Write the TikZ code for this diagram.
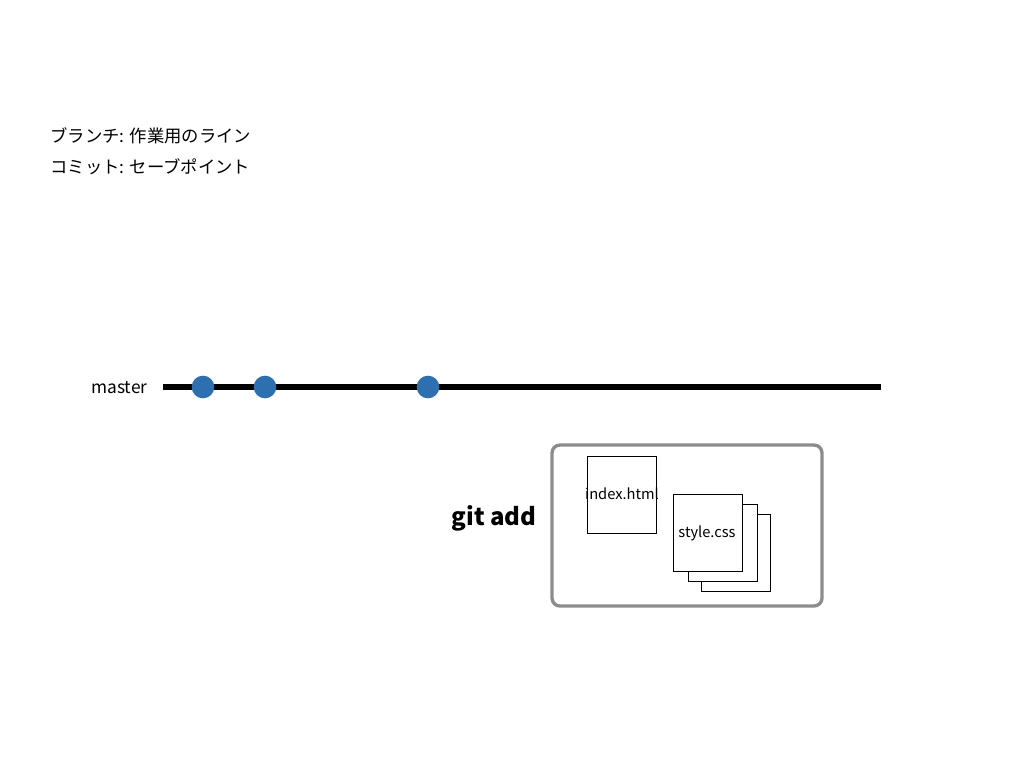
\documentclass[tikz,border=0pt]{standalone}
\usepackage{fontspec}
\setmainfont{Noto Sans CJK JP}
\definecolor{commitblue}{HTML}{2E6FB0}
\definecolor{boxgray}{HTML}{8C8C8C}
\tikzset{every picture/.style={line width=0.75pt}}
\tikzset{
  commit/.style={circle,fill=commitblue,draw=none,minimum size=17pt,inner sep=0pt},
  filebox/.style={draw=black,fill=white,line width=0.75pt,minimum width=51.75pt,minimum height=57.75pt,inner sep=0pt},
  txt/.style={inner sep=0.75pt,font=\fontsize{13}{15}\selectfont}
}
\begin{document}
\begin{tikzpicture}[x=0.75pt,y=0.75pt,yscale=-1,xscale=1]
		\useasboundingbox (0,0) rectangle (1024,769);
		
		% Text Node
		\node (branch) [txt,anchor=west] at (49,136) {ブランチ: 作業用のライン};
		% Text Node
		\node (commitnote) [txt,anchor=west] at (49,167) {コミット: セーブポイント};
		
		% master line
		\coordinate (mstart) at (163,387);
		\coordinate (mend) at (881,387);
		\node (master) [txt,anchor=east] at (149,388) {master};
		\draw [line width=4.5pt] (mstart) -- (mend);
		\node (c1) [commit] at (203,387) {};
		\node (c2) [commit] at (265,387) {};
		\node (c3) [commit] at (428,387) {};
		
		% staging area
		\draw [draw=boxgray,line width=2.5pt,rounded corners=6pt] (552,445) rectangle (822,606);
		\node (gitadd) [inner sep=0.75pt,font=\fontsize{18}{20}\selectfont\bfseries] at (494,518) {git add};
		
		% files
		\node (index) [filebox,anchor=north west] at (587,456) {};
		\node (style3) [filebox,anchor=north west] at (701,514) {};
		\node (style2) [filebox,anchor=north west] at (688,504) {};
		\node (style1) [filebox,anchor=north west] at (673,494) {};
		\node (indextext) [inner sep=0.75pt,font=\fontsize{11}{13}\selectfont] at (622,494) {index.html};
		\node (styletext) [inner sep=0.75pt,font=\fontsize{11}{13}\selectfont] at (707,533) {style.css};
	\end{tikzpicture}
\end{document}
